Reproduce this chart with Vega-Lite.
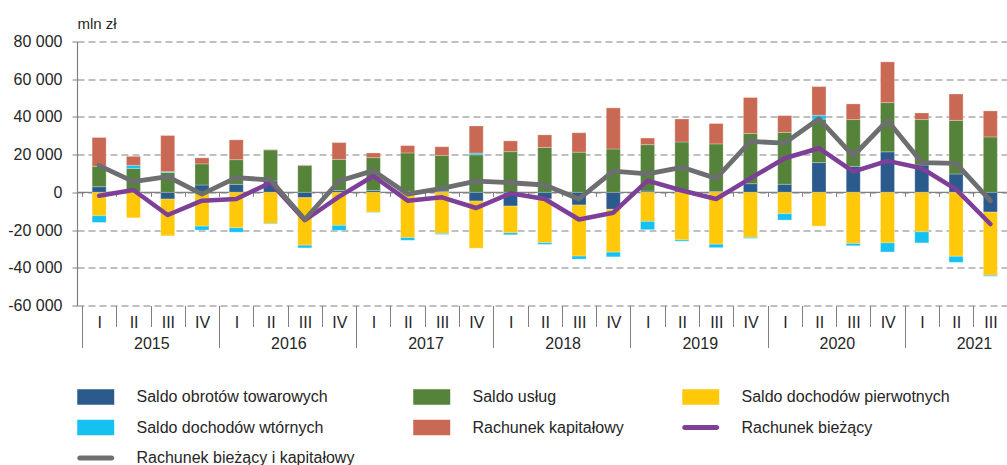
{
  "$schema": "https://vega.github.io/schema/vega-lite/v6.json",
  "width": 930,
  "height": 264,
  "autosize": {"type": "none"},
  "padding": {"left": 77, "top": 41.5, "right": 0, "bottom": 159.5},
  "background": "white",
  "config": {
    "view": {"stroke": null},
    "font": "Liberation Sans",
    "axis": {"labelFont": "Liberation Sans", "titleFont": "Liberation Sans", "labelColor": "#262626", "titleColor": "#262626"},
    "legend": {"labelFont": "Liberation Sans"}
  },
  "datasets": {
    "bars": [
      {"i":0,"s":"Saldo obrotów towarowych","k":1,"v":3000},{"i":0,"s":"Saldo usług","k":2,"v":10800},{"i":0,"s":"Saldo dochodów pierwotnych","k":3,"v":-12400},{"i":0,"s":"Saldo dochodów wtórnych","k":4,"v":-3550},{"i":0,"s":"Rachunek kapitałowy","k":5,"v":15300},
      {"i":1,"s":"Saldo obrotów towarowych","k":1,"v":300},{"i":1,"s":"Saldo usług","k":2,"v":12400},{"i":1,"s":"Saldo dochodów pierwotnych","k":3,"v":-13500},{"i":1,"s":"Saldo dochodów wtórnych","k":4,"v":1600},{"i":1,"s":"Rachunek kapitałowy","k":5,"v":4800},
      {"i":2,"s":"Saldo obrotów towarowych","k":1,"v":-3550},{"i":2,"s":"Saldo usług","k":2,"v":10500},{"i":2,"s":"Saldo dochodów pierwotnych","k":3,"v":-19500},{"i":2,"s":"Saldo dochodów wtórnych","k":4,"v":500},{"i":2,"s":"Rachunek kapitałowy","k":5,"v":19150},
      {"i":3,"s":"Saldo obrotów towarowych","k":1,"v":3900},{"i":3,"s":"Saldo usług","k":2,"v":11200},{"i":3,"s":"Saldo dochodów pierwotnych","k":3,"v":-17900},{"i":3,"s":"Saldo dochodów wtórnych","k":4,"v":-2100},{"i":3,"s":"Rachunek kapitałowy","k":5,"v":3200},
      {"i":4,"s":"Saldo obrotów towarowych","k":1,"v":4250},{"i":4,"s":"Saldo usług","k":2,"v":13100},{"i":4,"s":"Saldo dochodów pierwotnych","k":3,"v":-18800},{"i":4,"s":"Saldo dochodów wtórnych","k":4,"v":-2300},{"i":4,"s":"Rachunek kapitałowy","k":5,"v":10500},
      {"i":5,"s":"Saldo obrotów towarowych","k":1,"v":6000},{"i":5,"s":"Saldo usług","k":2,"v":16500},{"i":5,"s":"Saldo dochodów pierwotnych","k":3,"v":-16500},{"i":5,"s":"Saldo dochodów wtórnych","k":4,"v":-300},{"i":5,"s":"Rachunek kapitałowy","k":5,"v":200},
      {"i":6,"s":"Saldo obrotów towarowych","k":1,"v":-2840},{"i":6,"s":"Saldo usług","k":2,"v":14200},{"i":6,"s":"Saldo dochodów pierwotnych","k":3,"v":-25200},{"i":6,"s":"Saldo dochodów wtórnych","k":4,"v":-1400},{"i":6,"s":"Rachunek kapitałowy","k":5,"v":350},
      {"i":7,"s":"Saldo obrotów towarowych","k":1,"v":1000},{"i":7,"s":"Saldo usług","k":2,"v":16500},{"i":7,"s":"Saldo dochodów pierwotnych","k":3,"v":-17500},{"i":7,"s":"Saldo dochodów wtórnych","k":4,"v":-2650},{"i":7,"s":"Rachunek kapitałowy","k":5,"v":8900},
      {"i":8,"s":"Saldo obrotów towarowych","k":1,"v":1000},{"i":8,"s":"Saldo usług","k":2,"v":17400},{"i":8,"s":"Saldo dochodów pierwotnych","k":3,"v":-10500},{"i":8,"s":"Saldo dochodów wtórnych","k":4,"v":-200},{"i":8,"s":"Rachunek kapitałowy","k":5,"v":2500},
      {"i":9,"s":"Saldo obrotów towarowych","k":1,"v":500},{"i":9,"s":"Saldo usług","k":2,"v":20400},{"i":9,"s":"Saldo dochodów pierwotnych","k":3,"v":-24000},{"i":9,"s":"Saldo dochodów wtórnych","k":4,"v":-1400},{"i":9,"s":"Rachunek kapitałowy","k":5,"v":3900},
      {"i":10,"s":"Saldo obrotów towarowych","k":1,"v":600},{"i":10,"s":"Saldo usług","k":2,"v":19000},{"i":10,"s":"Saldo dochodów pierwotnych","k":3,"v":-21800},{"i":10,"s":"Saldo dochodów wtórnych","k":4,"v":-500},{"i":10,"s":"Rachunek kapitałowy","k":5,"v":4600},
      {"i":11,"s":"Saldo obrotów towarowych","k":1,"v":-4600},{"i":11,"s":"Saldo usług","k":2,"v":19900},{"i":11,"s":"Saldo dochodów pierwotnych","k":3,"v":-25000},{"i":11,"s":"Saldo dochodów wtórnych","k":4,"v":900},{"i":11,"s":"Rachunek kapitałowy","k":5,"v":14400},
      {"i":12,"s":"Saldo obrotów towarowych","k":1,"v":-7300},{"i":12,"s":"Saldo usług","k":2,"v":21600},{"i":12,"s":"Saldo dochodów pierwotnych","k":3,"v":-14200},{"i":12,"s":"Saldo dochodów wtórnych","k":4,"v":-1000},{"i":12,"s":"Rachunek kapitałowy","k":5,"v":5700},
      {"i":13,"s":"Saldo obrotów towarowych","k":1,"v":-3500},{"i":13,"s":"Saldo usług","k":2,"v":23800},{"i":13,"s":"Saldo dochodów pierwotnych","k":3,"v":-23200},{"i":13,"s":"Saldo dochodów wtórnych","k":4,"v":-900},{"i":13,"s":"Rachunek kapitałowy","k":5,"v":6700},
      {"i":14,"s":"Saldo obrotów towarowych","k":1,"v":-6700},{"i":14,"s":"Saldo usług","k":2,"v":21300},{"i":14,"s":"Saldo dochodów pierwotnych","k":3,"v":-27100},{"i":14,"s":"Saldo dochodów wtórnych","k":4,"v":-1600},{"i":14,"s":"Rachunek kapitałowy","k":5,"v":10300},
      {"i":15,"s":"Saldo obrotów towarowych","k":1,"v":-9000},{"i":15,"s":"Saldo usług","k":2,"v":23000},{"i":15,"s":"Saldo dochodów pierwotnych","k":3,"v":-22700},{"i":15,"s":"Saldo dochodów wtórnych","k":4,"v":-2500},{"i":15,"s":"Rachunek kapitałowy","k":5,"v":21800},
      {"i":16,"s":"Saldo obrotów towarowych","k":1,"v":700},{"i":16,"s":"Saldo usług","k":2,"v":24600},{"i":16,"s":"Saldo dochodów pierwotnych","k":3,"v":-15400},{"i":16,"s":"Saldo dochodów wtórnych","k":4,"v":-4400},{"i":16,"s":"Rachunek kapitałowy","k":5,"v":3500},
      {"i":17,"s":"Saldo obrotów towarowych","k":1,"v":800},{"i":17,"s":"Saldo usług","k":2,"v":25900},{"i":17,"s":"Saldo dochodów pierwotnych","k":3,"v":-25200},{"i":17,"s":"Saldo dochodów wtórnych","k":4,"v":-700},{"i":17,"s":"Rachunek kapitałowy","k":5,"v":12200},
      {"i":18,"s":"Saldo obrotów towarowych","k":1,"v":500},{"i":18,"s":"Saldo usług","k":2,"v":25200},{"i":18,"s":"Saldo dochodów pierwotnych","k":3,"v":-27500},{"i":18,"s":"Saldo dochodów wtórnych","k":4,"v":-1800},{"i":18,"s":"Rachunek kapitałowy","k":5,"v":10800},
      {"i":19,"s":"Saldo obrotów towarowych","k":1,"v":4600},{"i":19,"s":"Saldo usług","k":2,"v":26600},{"i":19,"s":"Saldo dochodów pierwotnych","k":3,"v":-23900},{"i":19,"s":"Saldo dochodów wtórnych","k":4,"v":-500},{"i":19,"s":"Rachunek kapitałowy","k":5,"v":19100},
      {"i":20,"s":"Saldo obrotów towarowych","k":1,"v":4300},{"i":20,"s":"Saldo usług","k":2,"v":27500},{"i":20,"s":"Saldo dochodów pierwotnych","k":3,"v":-11300},{"i":20,"s":"Saldo dochodów wtórnych","k":4,"v":-3400},{"i":20,"s":"Rachunek kapitałowy","k":5,"v":8900},
      {"i":21,"s":"Saldo obrotów towarowych","k":1,"v":15800},{"i":21,"s":"Saldo usług","k":2,"v":23000},{"i":21,"s":"Saldo dochodów pierwotnych","k":3,"v":-17900},{"i":21,"s":"Saldo dochodów wtórnych","k":4,"v":2100},{"i":21,"s":"Rachunek kapitałowy","k":5,"v":15200},
      {"i":22,"s":"Saldo obrotów towarowych","k":1,"v":13800},{"i":22,"s":"Saldo usług","k":2,"v":24800},{"i":22,"s":"Saldo dochodów pierwotnych","k":3,"v":-27100},{"i":22,"s":"Saldo dochodów wtórnych","k":4,"v":-1200},{"i":22,"s":"Rachunek kapitałowy","k":5,"v":8300},
      {"i":23,"s":"Saldo obrotów towarowych","k":1,"v":21500},{"i":23,"s":"Saldo usług","k":2,"v":26100},{"i":23,"s":"Saldo dochodów pierwotnych","k":3,"v":-26800},{"i":23,"s":"Saldo dochodów wtórnych","k":4,"v":-4800},{"i":23,"s":"Rachunek kapitałowy","k":5,"v":21600},
      {"i":24,"s":"Saldo obrotów towarowych","k":1,"v":14500},{"i":24,"s":"Saldo usług","k":2,"v":24100},{"i":24,"s":"Saldo dochodów pierwotnych","k":3,"v":-20900},{"i":24,"s":"Saldo dochodów wtórnych","k":4,"v":-5900},{"i":24,"s":"Rachunek kapitałowy","k":5,"v":3500},
      {"i":25,"s":"Saldo obrotów towarowych","k":1,"v":9750},{"i":25,"s":"Saldo usług","k":2,"v":28400},{"i":25,"s":"Saldo dochodów pierwotnych","k":3,"v":-33900},{"i":25,"s":"Saldo dochodów wtórnych","k":4,"v":-3200},{"i":25,"s":"Rachunek kapitałowy","k":5,"v":14000},
      {"i":26,"s":"Saldo obrotów towarowych","k":1,"v":-10500},{"i":26,"s":"Saldo usług","k":2,"v":29400},{"i":26,"s":"Saldo dochodów pierwotnych","k":3,"v":-33500},{"i":26,"s":"Saldo dochodów wtórnych","k":4,"v":-500},{"i":26,"s":"Rachunek kapitałowy","k":5,"v":13800}
    ],
    "lines": [
      {"i":0,"s":"Rachunek bieżący","v":-1770},{"i":1,"s":"Rachunek bieżący","v":1240},{"i":2,"s":"Rachunek bieżący","v":-12000},{"i":3,"s":"Rachunek bieżący","v":-4400},
      {"i":4,"s":"Rachunek bieżący","v":-3500},{"i":5,"s":"Rachunek bieżący","v":5100},{"i":6,"s":"Rachunek bieżący","v":-14800},{"i":7,"s":"Rachunek bieżący","v":-2300},
      {"i":8,"s":"Rachunek bieżący","v":8700},{"i":9,"s":"Rachunek bieżący","v":-4400},{"i":10,"s":"Rachunek bieżący","v":-2650},{"i":11,"s":"Rachunek bieżący","v":-8300},
      {"i":12,"s":"Rachunek bieżący","v":-500},{"i":13,"s":"Rachunek bieżący","v":-3500},{"i":14,"s":"Rachunek bieżący","v":-14400},{"i":15,"s":"Rachunek bieżący","v":-10800},
      {"i":16,"s":"Rachunek bieżący","v":6200},{"i":17,"s":"Rachunek bieżący","v":1000},{"i":18,"s":"Rachunek bieżący","v":-3500},{"i":19,"s":"Rachunek bieżący","v":7400},
      {"i":20,"s":"Rachunek bieżący","v":18100},{"i":21,"s":"Rachunek bieżący","v":23400},{"i":22,"s":"Rachunek bieżący","v":11000},{"i":23,"s":"Rachunek bieżący","v":16700},
      {"i":24,"s":"Rachunek bieżący","v":12800},{"i":25,"s":"Rachunek bieżący","v":1600},{"i":26,"s":"Rachunek bieżący","v":-16800},
      {"i":0,"s":"Rachunek bieżący i kapitałowy","v":14200},{"i":1,"s":"Rachunek bieżący i kapitałowy","v":5700},{"i":2,"s":"Rachunek bieżący i kapitałowy","v":8300},{"i":3,"s":"Rachunek bieżący i kapitałowy","v":-900},
      {"i":4,"s":"Rachunek bieżący i kapitałowy","v":7800},{"i":5,"s":"Rachunek bieżący i kapitałowy","v":6560},{"i":6,"s":"Rachunek bieżący i kapitałowy","v":-14400},{"i":7,"s":"Rachunek bieżący i kapitałowy","v":6000},
      {"i":8,"s":"Rachunek bieżący i kapitałowy","v":11500},{"i":9,"s":"Rachunek bieżący i kapitałowy","v":-900},{"i":10,"s":"Rachunek bieżący i kapitałowy","v":2100},{"i":11,"s":"Rachunek bieżący i kapitałowy","v":6000},
      {"i":12,"s":"Rachunek bieżący i kapitałowy","v":5100},{"i":13,"s":"Rachunek bieżący i kapitałowy","v":3900},{"i":14,"s":"Rachunek bieżący i kapitałowy","v":-3500},{"i":15,"s":"Rachunek bieżący i kapitałowy","v":11300},
      {"i":16,"s":"Rachunek bieżący i kapitałowy","v":9750},{"i":17,"s":"Rachunek bieżący i kapitałowy","v":13300},{"i":18,"s":"Rachunek bieżący i kapitałowy","v":7400},{"i":19,"s":"Rachunek bieżący i kapitałowy","v":27000},
      {"i":20,"s":"Rachunek bieżący i kapitałowy","v":26100},{"i":21,"s":"Rachunek bieżący i kapitałowy","v":39000},{"i":22,"s":"Rachunek bieżący i kapitałowy","v":19300},{"i":23,"s":"Rachunek bieżący i kapitałowy","v":38100},
      {"i":24,"s":"Rachunek bieżący i kapitałowy","v":15800},{"i":25,"s":"Rachunek bieżący i kapitałowy","v":15400},{"i":26,"s":"Rachunek bieżący i kapitałowy","v":-4400}
    ]
  },
  "resolve": {"axis": {"x": "independent", "y": "shared"}},
  "encoding": {
    "y": {
      "field": "v", "type": "quantitative",
      "scale": {"domain": [-60000, 80000], "nice": false, "zero": false},
      "axis": {
        "orient": "left",
        "title": "mln zł",
        "titleAngle": 0,
        "titleX": 0,
        "titleY": -13.5,
        "titleAlign": "left",
        "titleBaseline": "alphabetic",
        "titleFontSize": 15,
        "titleFontWeight": "normal",
        "values": [-60000, -40000, -20000, 0, 20000, 40000, 60000, 80000],
        "labelExpr": "(datum.value < 0 ? '-' : '') + replace(format(abs(datum.value), ','), ',', ' ')",
        "labelFontSize": 16,
        "labelPadding": 10,
        "tickSize": 5,
        "tickColor": "#808080",
        "domainColor": "#808080",
        "domainWidth": 1.2,
        "grid": true,
        "gridColor": "#808080",
        "gridDash": [7, 4],
        "gridWidth": 1.1
      }
    }
  },
  "layer": [
    {
      "data": {"values": [{"v": 0}]},
      "mark": {"type": "rule", "color": "#808080", "strokeWidth": 1.3},
      "encoding": {}
    },
    {
      "data": {"name": "bars"},
      "mark": {"type": "bar", "width": 14, "orient": "vertical", "stroke": "white", "strokeWidth": 0.5, "strokeOpacity": 0.5},
      "encoding": {
        "x": {
          "field": "i", "type": "quantitative",
          "scale": {"domain": [-0.5, 26.34], "nice": false, "zero": false},
          "axis": {
            "orient": "bottom",
            "title": null,
            "values": [-0.5,0.5,1.5,2.5,3.5,4.5,5.5,6.5,7.5,8.5,9.5,10.5,11.5,12.5,13.5,14.5,15.5,16.5,17.5,18.5,19.5,20.5,21.5,22.5,23.5,24.5,25.5],
            "labelExpr": "['I','II','III','IV'][(datum.value + 0.5) % 4]",
            "labelOffset": 17.33,
            "labelFontSize": 16,
            "labelPadding": -12,
            "labelFlush": false,
            "labelOverlap": false,
            "labelBound": false,
            "tickSize": 21,
            "tickColor": "#808080",
            "tickWidth": 1,
            "domain": false,
            "grid": false
          }
        },
        "color": {
          "field": "s", "type": "nominal",
          "scale": {
            "domain": ["Saldo obrotów towarowych", "Saldo usług", "Saldo dochodów pierwotnych", "Saldo dochodów wtórnych", "Rachunek kapitałowy", "Rachunek bieżący", "Rachunek bieżący i kapitałowy"],
            "range": ["#2B5B8C", "#55833A", "#FFC90A", "#16C0F0", "#C96954", "#7D3F98", "#6D6E70"]
          },
          "legend": {
            "title": null,
            "orient": "none",
            "legendX": 0,
            "legendY": 347.5,
            "direction": "horizontal",
            "columns": 3,
            "columnPadding": 58,
            "rowPadding": 14.5,
            "padding": 0,
            "symbolSize": 240,
            "symbolType": {"expr": "indexof(['Rachunek bieżący','Rachunek bieżący i kapitałowy'], datum.value) >= 0 ? 'M-0.68,-0.32H3.45A0.32,0.32 0 0 1 3.45,0.32H-0.68A0.32,0.32 0 0 1 -0.68,-0.32Z' : 'M-1,-1H3.774V1H-1Z'"},
            "symbolStrokeWidth": 0,
            "symbolOpacity": 1,
            "labelOffset": 43.5,
            "labelFontSize": 16,
            "labelColor": "#262626",
            "labelLimit": 400
          }
        },
        "order": {"field": "k", "type": "quantitative", "sort": "ascending"}
      }
    },
    {
      "data": {"name": "lines"},
      "transform": [{"filter": {"field": "s", "equal": "Rachunek bieżący"}}],
      "mark": {"type": "line", "strokeWidth": 4.5, "strokeJoin": "round", "strokeCap": "round"},
      "encoding": {
        "x": {
          "field": "i", "type": "quantitative",
          "scale": {"domain": [-0.5, 26.34], "nice": false, "zero": false},
          "axis": {
            "orient": "bottom",
            "title": null,
            "values": [-0.5, 3.5, 7.5, 11.5, 15.5, 19.5, 23.5],
            "labelExpr": "datum.value > 23 ? '2021\u00a0\u00a0\u00a0\u00a0\u00a0' : '' + (2015 + (datum.value + 0.5) / 4)",
            "labelOffset": 69.3,
            "labelFontSize": 16,
            "labelPadding": -12,
            "labelFlush": false,
            "labelOverlap": false,
            "labelBound": false,
            "tickSize": 42,
            "tickColor": "#808080",
            "tickWidth": 1,
            "domain": false,
            "grid": false
          }
        },
        "color": {"field": "s", "type": "nominal", "legend": null}
      }
    },
    {
      "data": {"name": "lines"},
      "transform": [{"filter": {"field": "s", "equal": "Rachunek bieżący i kapitałowy"}}],
      "mark": {"type": "line", "strokeWidth": 4.8, "strokeJoin": "round", "strokeCap": "round"},
      "encoding": {
        "x": {
          "field": "i", "type": "quantitative",
          "scale": {"domain": [-0.5, 26.34], "nice": false, "zero": false},
          "axis": {
            "orient": "bottom",
            "title": null,
            "values": [-0.5,0.5,1.5,2.5,3.5,4.5,5.5,6.5,7.5,8.5,9.5,10.5,11.5,12.5,13.5,14.5,15.5,16.5,17.5,18.5,19.5,20.5,21.5,22.5,23.5,24.5,25.5],
            "labels": false,
            "tickSize": 4,
            "tickColor": "#808080",
            "tickWidth": 1,
            "domain": false,
            "grid": false,
            "offset": -113.14
          }
        },
        "color": {"field": "s", "type": "nominal", "legend": null}
      }
    }
  ]
}
